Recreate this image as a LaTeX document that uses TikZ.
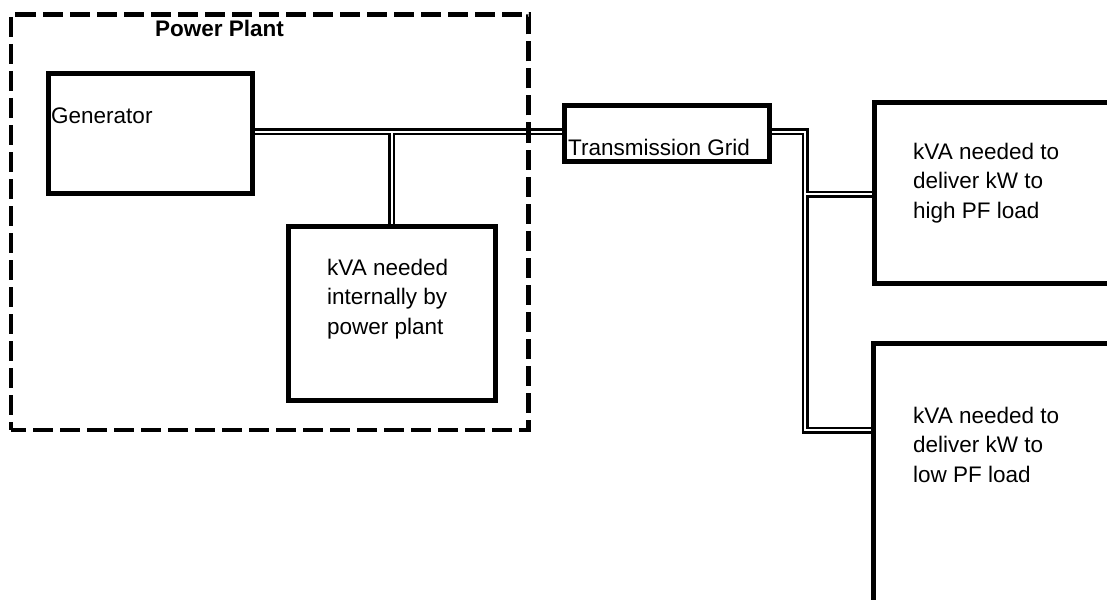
\documentclass[tikz,border=0pt]{standalone}
\usepackage{fontspec}
\setmainfont{Liberation Sans}
\usetikzlibrary{backgrounds}
\begin{document}
\begin{tikzpicture}[x=1pt,y=-1pt,
  box/.style={draw=black,line width=5pt,rectangle,inner sep=0pt},
  plant/.style={draw=black,line width=4.8pt,rectangle,inner sep=0pt,dash pattern=on 20pt off 7pt,dash phase=5pt},
  wireout/.style={draw=black,line width=7pt,line join=miter,line cap=butt},
  wirein/.style={draw=white,line width=1.7pt,line join=miter,line cap=butt},
  txt/.style={anchor=base west,inner sep=0pt,align=left,font=\fontsize{22.5}{29.5}\selectfont},
  btxt/.style={txt,font=\fontsize{22.5}{29.5}\selectfont\bfseries}]
\useasboundingbox (0,0) rectangle (1107,599);
% boxes
\node[plant,minimum width=517.5pt,minimum height=415.5pt] (plant) at (269.75,222.25) {};
\node[box,minimum width=204pt,minimum height=119.5pt] (gen) at (150.5,133.75) {};
\node[box,minimum width=206.5pt,minimum height=174pt] (int) at (391.75,313) {};
\node[box,minimum width=205pt,minimum height=56pt] (grid) at (667,133.5) {};
\node[box,minimum width=256pt,minimum height=180pt] (high) at (1002,193) {};
\node[box,minimum width=256.5pt,minimum height=307pt] (low) at (1001.75,496.5) {};
% junctions
\coordinate (j1) at (391.75,131.8);
\coordinate (j2) at (805,131.8);
\coordinate (j3) at (805,430);
\coordinate (j4) at (805,194);
% wires
\begin{scope}[on background layer]
\foreach \st in {wireout,wirein}{
  \draw[\st] (gen.east |- j1) -- (j1) -- (grid.west |- j1);
  \draw[\st] (j1) -- (int.north);
  \draw[\st] (grid.east |- j2) -- (j2) -- (j3) -- (low.west |- j3);
  \draw[\st] (j4) -- (high.west |- j4);
}
\end{scope}
% texts (multi-line nodes: base = last line)
\node[btxt] (tplant) at (155,37) {Power Plant};
\node[txt] (tgen) at (51,124) {Generator};
\node[txt] (tint) at (327,334) {kVA needed\\internally by\\power plant};
\node[txt] (tgrid) at (568,155) {Transmission Grid};
\node[txt] (thigh) at (913,218) {kVA needed to\\deliver kW to\\high PF load};
\node[txt] (tlow) at (913,482) {kVA needed to\\deliver kW to\\low PF load};
\end{tikzpicture}
\end{document}
